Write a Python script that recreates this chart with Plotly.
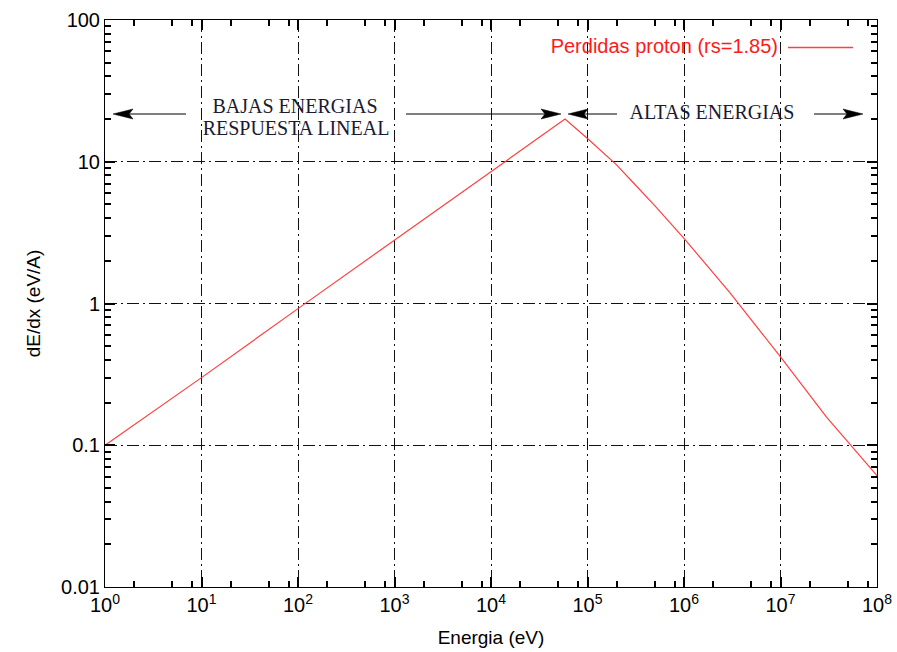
import plotly.graph_objects as go

energia = [1, 1e1, 1e2, 1e3, 1e4, 5.85e4, 1e5, 2e5, 3e5, 5e5, 1e6, 3e6, 1e7, 3e7, 1e8]
dedx = [0.1, 0.3, 0.92, 2.8, 8.6, 20.0, 14.6, 9.5, 7.08, 4.88, 2.88, 1.19, 0.42, 0.158, 0.061]

x_tickvals = [10 ** i for i in range(0, 9)]
x_ticktext = [f"10<sup>{i}</sup>" for i in range(0, 9)]
x_minor = [m * 10 ** i for i in range(0, 8) for m in (2, 5, 8)]
y_tickvals = [0.01, 0.1, 1, 10, 100]
y_ticktext = ["0.01", "0.1", "1", "10", "100"]
y_minor = [m * 10.0 ** i for i in range(-2, 2) for m in range(2, 10)]

serie_nombre = "Perdidas proton (rs=1.85)"
textos = ["BAJAS ENERGIAS", "RESPUESTA LINEAL", "ALTAS ENERGIAS"]
rojo_linea = "#ff4040"
rojo_texto = "#ff1a1a"

W, H = 897, 652
ML, MR, MT, MB = 105, 20, 20, 65
PW, PH = W - ML - MR, H - MT - MB


def px_to_data(px, py):
    return 10 ** ((px - ML) / PW * 8), 10 ** (2 - (py - MT) / PH * 4)


fig = go.Figure()
fig.add_trace(go.Scatter(x=energia, y=dedx, mode="lines",
                         line=dict(color=rojo_linea, width=1.2), name=serie_nombre,
                         showlegend=False, hoverinfo="skip"))

sans = "Liberation Sans, Arial, sans-serif"
axis_common = dict(
    type="log", showline=True, linecolor="black", linewidth=1, mirror="allticks",
    ticks="inside", ticklen=10, tickcolor="black", tickwidth=1.5,
    showgrid=True, gridcolor="#111111", gridwidth=1, griddash="12px,4px,2px,4px",
    zeroline=False, automargin=False,
    tickfont=dict(family=sans, size=20, color="black"),
)

fig.update_xaxes(**axis_common, range=[0, 8], tickvals=x_tickvals, ticktext=x_ticktext,
                 minor=dict(tickvals=x_minor, ticks="inside", ticklen=6,
                            tickcolor="black", tickwidth=1.5, showgrid=False),
                 title=dict(text="Energia (eV)", font=dict(family=sans, size=19, color="black")))
fig.update_yaxes(**axis_common, range=[-2, 2], tickvals=y_tickvals, ticktext=y_ticktext,
                 minor=dict(tickvals=y_minor, ticks="inside", ticklen=6,
                            tickcolor="black", tickwidth=1.5, showgrid=False),
                 title=dict(text="dE/dx (eV/A)", font=dict(family=sans, size=19, color="black")))

# arrows: (tip_px, tail_px, y_px), drawn as traces (line + filled head)
arrows = [(113, 186, 114), (561, 406, 114), (568, 617, 114), (863, 814, 114)]
head_len, head_half, notch = 20, 5, 4
for tip, tail, yy in arrows:
    d = 1 if tail > tip else -1
    back = tip + d * head_len
    lx0, ly0 = px_to_data(back - d * notch, yy)
    lx1, ly1 = px_to_data(tail, yy)
    fig.add_trace(go.Scatter(x=[lx0, lx1], y=[ly0, ly1], mode="lines",
                             line=dict(color="black", width=1.2),
                             showlegend=False, hoverinfo="skip"))
    pts = [(tip, yy), (back, yy - head_half), (back - d * notch, yy), (back, yy + head_half), (tip, yy)]
    hx, hy = zip(*[px_to_data(a, b) for a, b in pts])
    fig.add_trace(go.Scatter(x=list(hx), y=list(hy), mode="lines", fill="toself",
                             fillcolor="black", line=dict(color="black", width=0.5),
                             showlegend=False, hoverinfo="skip"))

# serif labels as a text trace
pos = [(295, 108), (296, 130), (712, 114)]
tx, ty = zip(*[px_to_data(a, b) for a, b in pos])
fig.add_trace(go.Scatter(x=list(tx), y=list(ty), mode="text", text=textos,
                         textposition="middle center",
                         textfont=dict(family="Liberation Serif, Times New Roman, serif",
                                       size=20, color="#1a1a33"),
                         showlegend=False, hoverinfo="skip", cliponaxis=False))

# legend: text + sample line
lgx, lgy = px_to_data(778, 47.5)
fig.add_trace(go.Scatter(x=[lgx], y=[lgy], mode="text", text=[serie_nombre],
                         textposition="middle left",
                         textfont=dict(family=sans, size=20, color=rojo_texto),
                         showlegend=False, hoverinfo="skip", cliponaxis=False))
s0 = px_to_data(788, 47.5)
s1 = px_to_data(853, 47.5)
fig.add_trace(go.Scatter(x=[s0[0], s1[0]], y=[s0[1], s1[1]], mode="lines",
                         line=dict(color=rojo_linea, width=1.5),
                         showlegend=False, hoverinfo="skip"))

fig.update_layout(width=W, height=H, margin=dict(l=ML, r=MR, t=MT, b=MB),
                  plot_bgcolor="white", paper_bgcolor="white", showlegend=False)

fig.write_html("out.html")
